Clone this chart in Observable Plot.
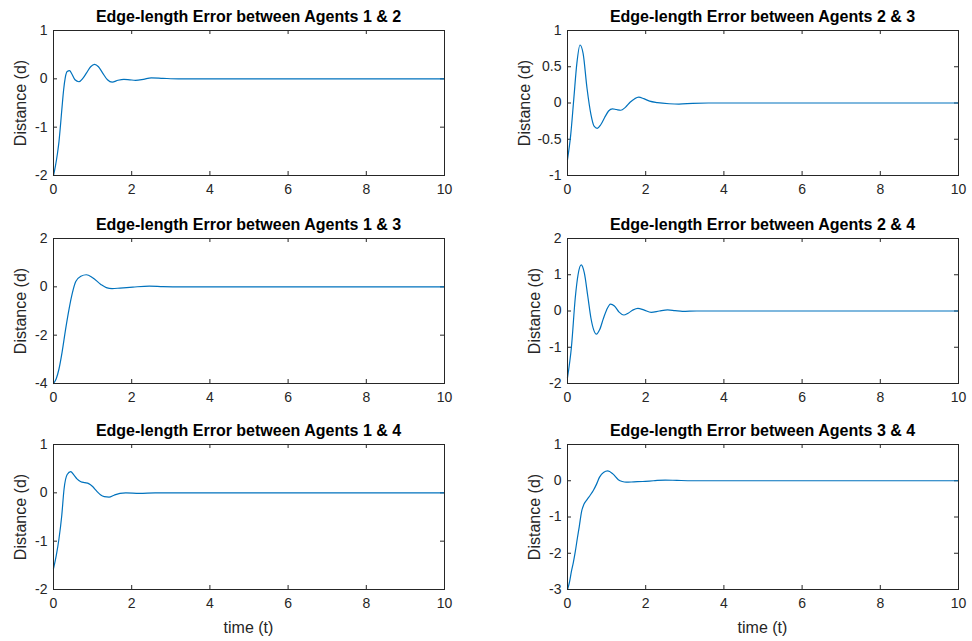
<!DOCTYPE html>
<html>
<head>
<meta charset="utf-8">
<script src="https://cdn.jsdelivr.net/npm/d3@7"></script>
<script src="https://cdn.jsdelivr.net/npm/@observablehq/plot@0.6"></script>
<style>
  html, body { margin: 0; padding: 0; background: #fff; }
  #root { position: relative; width: 972px; height: 641px; font-family: "Liberation Sans", Arial, sans-serif; color: #262626; }
  .title { position: absolute; font-weight: bold; font-size: 16px; color: #000; white-space: nowrap; transform: translate(-50%, -50%); }
  .ylab { position: absolute; font-size: 16px; white-space: nowrap; transform: translate(-50%, -50%) rotate(-90deg); }
  .xlab { position: absolute; font-size: 16px; white-space: nowrap; transform: translate(-50%, -50%); }
  svg { position: absolute; overflow: visible; }
</style>
</head>
<body>
<div id="root"></div>
<script>
// ---- data ----
const xTicks = [0, 2, 4, 6, 8, 10];
const tail = [[3.6, 0], [4, 0], [5, 0], [6, 0], [7, 0], [8, 0], [9, 0], [10, 0]];

const e12 = [[0,-2],[0.05,-1.8],[0.1,-1.55],[0.14,-1.3],[0.18,-0.95],[0.22,-0.57],[0.26,-0.22],[0.3,0.02],[0.35,0.15],[0.41,0.17],[0.47,0.1],[0.55,-0.02],[0.65,-0.06],[0.75,0.01],[0.85,0.13],[0.95,0.25],[1.05,0.3],[1.15,0.25],[1.25,0.13],[1.38,-0.02],[1.5,-0.07],[1.65,-0.03],[1.8,-0.01],[1.95,-0.02],[2.1,-0.03],[2.3,-0.01],[2.5,0.02],[2.8,0.01],[3.2,0]];
const e23 = [[0,-0.78],[0.08,-0.45],[0.16,0.05],[0.24,0.55],[0.32,0.8],[0.4,0.68],[0.5,0.2],[0.6,-0.16],[0.68,-0.32],[0.76,-0.35],[0.85,-0.3],[0.95,-0.2],[1.05,-0.11],[1.15,-0.08],[1.25,-0.09],[1.36,-0.1],[1.48,-0.06],[1.6,0.01],[1.72,0.06],[1.82,0.08],[1.95,0.06],[2.1,0.025],[2.3,0.005],[2.6,-0.01],[2.85,-0.015],[3.2,-0.005]];
const e13 = [[0,-4],[0.07,-3.8],[0.14,-3.4],[0.22,-2.7],[0.31,-1.75],[0.4,-0.9],[0.48,-0.27],[0.57,0.22],[0.7,0.44],[0.84,0.5],[1.0,0.38],[1.21,0.1],[1.35,-0.03],[1.5,-0.07],[1.7,-0.05],[2.03,-0.01],[2.45,0.03],[2.8,0.01],[3.3,0]];
const e24 = [[0,-1.84],[0.1,-1.0],[0.2,0.38],[0.27,1.0],[0.35,1.27],[0.43,1.05],[0.52,0.4],[0.6,-0.2],[0.67,-0.52],[0.74,-0.64],[0.82,-0.52],[0.92,-0.2],[1.0,0.03],[1.1,0.19],[1.2,0.14],[1.32,-0.03],[1.44,-0.11],[1.55,-0.06],[1.68,0.03],[1.8,0.07],[1.95,0.03],[2.14,-0.04],[2.35,0.0],[2.56,0.03],[2.75,0.01],[2.94,-0.01],[3.3,0]];
const e14 = [[0,-1.57],[0.07,-1.3],[0.14,-0.95],[0.21,-0.48],[0.27,0.08],[0.35,0.38],[0.44,0.44],[0.52,0.37],[0.6,0.29],[0.7,0.23],[0.8,0.21],[0.9,0.19],[1.0,0.13],[1.1,0.04],[1.2,-0.04],[1.3,-0.08],[1.42,-0.09],[1.55,-0.05],[1.7,-0.01],[1.85,0.0],[2.2,-0.01],[2.6,0],[3,0]];
const e34 = [[0,-3],[0.05,-2.8],[0.1,-2.5],[0.15,-2.25],[0.2,-1.95],[0.25,-1.6],[0.3,-1.27],[0.36,-0.85],[0.42,-0.65],[0.5,-0.52],[0.58,-0.4],[0.66,-0.27],[0.74,-0.1],[0.82,0.1],[0.92,0.23],[1.03,0.27],[1.16,0.19],[1.3,0.03],[1.4,-0.02],[1.5,-0.04],[1.7,-0.03],[1.92,-0.02],[2.2,0.0],[2.5,0.02],[2.8,0.01],[3.2,0]];

const titles = ["Edge-length Error between Agents 1 & 2","Edge-length Error between Agents 2 & 3","Edge-length Error between Agents 1 & 3","Edge-length Error between Agents 2 & 4","Edge-length Error between Agents 1 & 4","Edge-length Error between Agents 3 & 4"];
const series = [e12, e23, e13, e24, e14, e34];
const yDomains = [[-2,1],[-1,1],[-4,2],[-2,2],[-2,1],[-3,1]];
const yTicks = [[-2,-1,0,1],[-1,-0.5,0,0.5,1],[-4,-2,0,2],[-2,-1,0,1,2],[-2,-1,0,1],[-3,-2,-1,0,1]];

// ---- layout ----
const colLeft = [53, 567];
const rowTop = [30, 238, 444];
const FW = 391, FH = 145;
const ML = 60, MR = 12, MT = 6, MB = 30;
const ink = "#262626";

const root = document.getElementById("root");

series.forEach((s, i) => {
  const col = i % 2, row = Math.floor(i / 2);
  const left = colLeft[col], top = rowTop[row];
  const data = s.concat(tail.filter(d => d[0] > s[s.length - 1][0])).map(([t, v]) => ({t, v}));
  const chart = Plot.plot({
    width: ML + FW + MR,
    height: MT + FH + MB,
    marginLeft: ML, marginRight: MR, marginTop: MT, marginBottom: MB,
    style: {fontFamily: '"Liberation Sans", Arial, sans-serif', fontSize: "14px", color: ink, background: "transparent"},
    x: {domain: [0, 10], ticks: xTicks},
    y: {domain: yDomains[i], ticks: yTicks[i]},
    marks: [
      Plot.axisX(xTicks, {anchor: "bottom", tickSize: 0, tickPadding: 9, tickFormat: d => String(d), label: null, fill: ink, fontSize: 14}),
      Plot.axisY(yTicks[i], {anchor: "left", tickSize: 0, tickPadding: 6, tickFormat: d => String(d), label: null, fill: ink, fontSize: 14}),
      // inward ticks, bottom / top
      Plot.ruleX(xTicks, {x: d => d, insetTop: FH - 4, stroke: ink, strokeWidth: 1}),
      Plot.ruleX(xTicks, {x: d => d, insetBottom: FH - 4, stroke: ink, strokeWidth: 1}),
      // inward ticks, left / right
      Plot.ruleY(yTicks[i], {y: d => d, insetRight: FW - 4, stroke: ink, strokeWidth: 1}),
      Plot.ruleY(yTicks[i], {y: d => d, insetLeft: FW - 4, stroke: ink, strokeWidth: 1}),
      Plot.line(data, {x: "t", y: "v", stroke: "#0072BD", strokeWidth: 1.2, curve: "monotone-x"}),
      Plot.frame({stroke: ink, strokeWidth: 1})
    ]
  });
  chart.style.left = (left - ML) + "px";
  chart.style.top = (top - MT) + "px";
  root.appendChild(chart);

  const cx = left + FW / 2;
  const tdiv = document.createElement("div");
  tdiv.className = "title";
  tdiv.textContent = titles[i];
  tdiv.style.left = cx + "px";
  tdiv.style.top = (top - 13) + "px";
  root.appendChild(tdiv);

  const ydiv = document.createElement("div");
  ydiv.className = "ylab";
  ydiv.textContent = "Distance (d)";
  ydiv.style.left = (col === 1 && row === 0 ? left - 42 : left - 32) + "px";
  ydiv.style.top = (top + FH / 2) + "px";
  root.appendChild(ydiv);

  if (row === 2) {
    const xdiv = document.createElement("div");
    xdiv.className = "xlab";
    xdiv.textContent = "time (t)";
    xdiv.style.left = cx + "px";
    xdiv.style.top = (top + FH + 39) + "px";
    root.appendChild(xdiv);
  }
});
</script>
</body>
</html>
